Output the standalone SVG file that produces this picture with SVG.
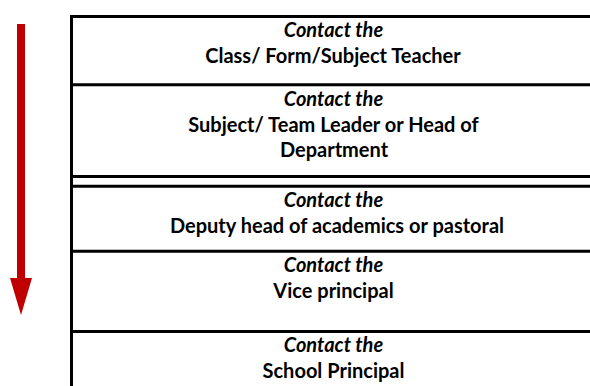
<svg xmlns="http://www.w3.org/2000/svg" width="590" height="386" viewBox="0 0 590 386">
<defs>
<style>
.ln{stroke:#000;stroke-width:3;fill:none}
.t{font-family:Lato,"Liberation Sans",sans-serif;font-size:20px;font-weight:bold;fill:#000;text-anchor:middle}
.i{font-style:italic}
</style>
</defs>
<rect width="590" height="386" fill="#fff"/>
<g id="arrow">
<rect x="17" y="24" width="8" height="255" fill="#c00000"/>
<polygon points="10,278 32,278 21,315" fill="#c00000"/>
</g>
<g id="connectors">
<line class="ln" x1="71.5" y1="16.5" x2="71.5" y2="386"/>
</g>
<g id="node1">
<line class="ln" x1="70" y1="16.5" x2="590" y2="16.5"/>
<text class="t i" x="333.5" y="37">Contact the</text>
<text class="t" x="333" y="63">Class/ Form/Subject Teacher</text>
</g>
<g id="node2">
<line class="ln" x1="70" y1="84.7" x2="590" y2="84.7"/>
<text class="t i" x="333.5" y="106">Contact the</text>
<text class="t" x="333.5" y="132">Subject/ Team Leader or Head of</text>
<text class="t" x="334" y="157">Department</text>
</g>
<g id="node3">
<line class="ln" x1="70" y1="176.5" x2="590" y2="176.5"/>
<line class="ln" x1="70" y1="186.3" x2="590" y2="186.3"/>
<text class="t i" x="333.5" y="207">Contact the</text>
<text class="t" x="337" y="233">Deputy head of academics or pastoral</text>
</g>
<g id="node4">
<line class="ln" x1="70" y1="251.2" x2="590" y2="251.2"/>
<text class="t i" x="333.5" y="272">Contact the</text>
<text class="t" x="333.5" y="298">Vice principal</text>
</g>
<g id="node5">
<line class="ln" x1="70" y1="331.5" x2="590" y2="331.5"/>
<text class="t i" x="333.5" y="352">Contact the</text>
<text class="t" x="333.5" y="378">School Principal</text>
</g>
</svg>
